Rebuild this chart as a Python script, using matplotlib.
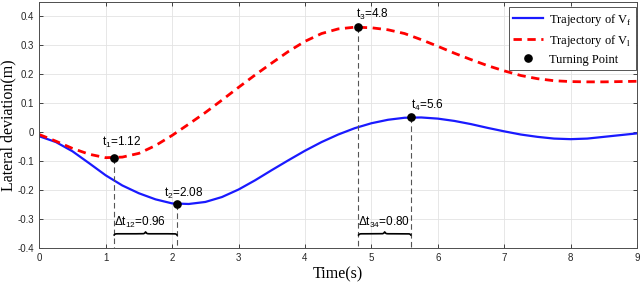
import numpy as np
import matplotlib
matplotlib.use('Agg')
import matplotlib.pyplot as plt

# 时间轴 (s)
time = np.arange(0, 9.01, 0.25)

# 跟随车 V_f 的横向偏移 (m)
y_follow = [-0.015, -0.035, -0.067, -0.108, -0.150, -0.185, -0.212, -0.233,
            -0.247, -0.249, -0.242, -0.225, -0.199, -0.167, -0.132, -0.098,
            -0.065, -0.035, -0.009, 0.013, 0.030, 0.042, 0.049, 0.050,
            0.046, 0.038, 0.027, 0.014, 0.002, -0.009, -0.017, -0.023,
            -0.025, -0.023, -0.017, -0.011, -0.005]

# 领航车 V_l 的横向偏移 (m)
y_leader = [-0.009, -0.032, -0.057, -0.077, -0.089, -0.087, -0.074, -0.047,
            -0.012, 0.027, 0.067, 0.110, 0.154, 0.197, 0.238, 0.278,
            0.313, 0.340, 0.356, 0.362, 0.360, 0.353, 0.340, 0.319,
            0.296, 0.272, 0.250, 0.229, 0.211, 0.195, 0.184, 0.177,
            0.174, 0.173, 0.173, 0.174, 0.175]

# 转折点
turn_t = [1.12, 2.08, 4.8, 5.6]
turn_y = [-0.09, -0.25, 0.362, 0.05]
turn_names = ['1', '2', '3', '4']
turn_labels = ['1.12', '2.08', '4.8', '5.6']

# 时间差 (起点序号, 终点序号, 下标, 数值)
gaps = [(0, 1, '12', '0.96'), (2, 3, '34', '0.80')]

xticks = list(range(0, 10))
yticks = [-0.4, -0.3, -0.2, -0.1, 0, 0.1, 0.2, 0.3, 0.4]
ytick_labels = ['-0.4', '-0.3', '-0.2', '-0.1', '0', '0.1', '0.2', '0.3', '0.4']

SANS = 'Liberation Sans'
SERIF = 'Liberation Serif'


def brace(ax, x0, x1, y, h, beta=110, n=300):
    # 画一个尖端朝上的花括号
    xh = np.linspace(0, (x1 - x0) / 2, n // 2)
    half = 1 / (1 + np.exp(-beta * (xh - xh[0]))) + 1 / (1 + np.exp(-beta * (xh - xh[-1])))
    v = np.concatenate((half, half[-2::-1]))
    xs = np.linspace(x0, x1, len(v))
    ax.plot(xs, y + (v - 1) * 2 * h, color='black', lw=1.2, solid_capstyle='butt')


fig = plt.figure(figsize=(6.4, 2.86), dpi=100)
ax = fig.add_axes([0.0614, 0.134, 0.934, 0.860])

ax.plot(time, y_follow, color='#1a1aff', lw=1.6, label='Trajectory of V$_\\mathregular{f}$')
ax.plot(time, y_leader, color='#ff0000', lw=2.0, linestyle=(0, (3, 2)),
        label='Trajectory of V$_\\mathregular{l}$')

# 转折点竖直虚线
for t, y in zip(turn_t, turn_y):
    ax.plot([t, t], [y, -0.4], color='#555555', lw=0.8, linestyle=(0, (5, 3)))

ax.plot(turn_t, turn_y, linestyle='none', marker='o', ms=5.2, color='black',
        label='Turning Point')

offsets = [(-8.6, 8.6), (-10, 5.5), (-1.2, 6.8), (-0.5, 6.5)]
for t, y, nm, lb, off in zip(turn_t, turn_y, turn_names, turn_labels, offsets):
    ax.annotate('t$_\\mathregular{%s}$=%s' % (nm, lb), (t, y), xytext=off,
                textcoords='offset points', ha='left', va='baseline',
                fontsize=8.5, family=SANS)

for i0, i1, sub, val in gaps:
    brace(ax, turn_t[i0], turn_t[i1], -0.352, 0.0065)
    ax.text(turn_t[i0], -0.326, '\u0394t$_\\mathregular{%s}$=%s' % (sub, val),
            ha='left', va='baseline', fontsize=8.5, family=SANS)

ax.set_xlim(0, 9)
ax.set_ylim(-0.4, 0.45)
ax.set_xticks(xticks)
ax.set_yticks(yticks)
ax.set_yticklabels(ytick_labels)
ax.grid(True, color='#e3e3e3', lw=0.6)
ax.set_axisbelow(True)
ax.tick_params(direction='in', top=True, right=True, length=3, width=0.6,
               labelsize=7, colors='#262626', pad=4)
for lab in ax.get_xticklabels() + ax.get_yticklabels():
    lab.set_family(SANS)
for sp in ax.spines.values():
    sp.set_color('#4d4d4d')
    sp.set_linewidth(0.7)

ax.set_xlabel('Time(s)', family=SERIF, fontsize=11.5, labelpad=2)
ax.set_ylabel('Lateral deviation(m)', family=SERIF, fontsize=11.5)
ax.yaxis.set_label_coords(-0.039, 0.5)

leg = ax.legend(loc='upper right', bbox_to_anchor=(0.999, 0.978), borderaxespad=0,
                prop={'family': SERIF, 'size': 9}, fancybox=False,
                edgecolor='#555555', framealpha=1, handlelength=2.4,
                labelspacing=0.4, borderpad=0.35, handletextpad=0.5)
leg.get_frame().set_linewidth(0.7)

fig.savefig('out.png', dpi=100)
